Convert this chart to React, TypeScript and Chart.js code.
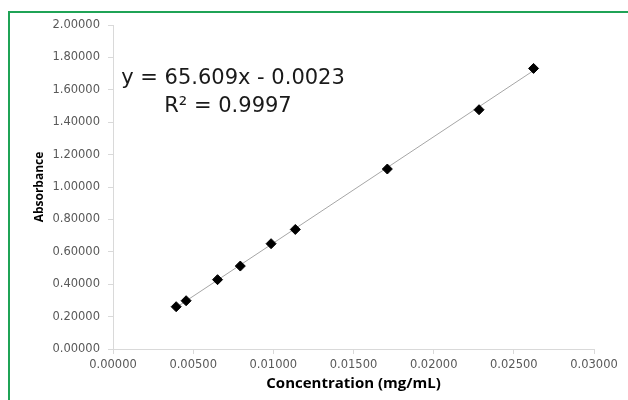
import React, { useEffect, useRef } from "react";
import { Chart, registerables } from "chart.js";

Chart.register(...registerables);

const concentration = [0.00394, 0.00456, 0.00652, 0.00794, 0.00986, 0.01137, 0.01711, 0.02283, 0.02623];
const absorbance = [0.261, 0.298, 0.428, 0.512, 0.65, 0.738, 1.111, 1.477, 1.732];
const trendX = [0.00394, 0.02623];
const trendY = [0.2562, 1.7186];
const equationLines = ["y = 65.609x - 0.0023", "R² = 0.9997"];
const xTitle = "Concentration (mg/mL)";
const yTitle = "Absorbance";

const equationPlugin = {
  id: "equation",
  afterDraw(chart: any) {
    const ctx = chart.ctx;
    ctx.save();
    ctx.fillStyle = "#1a1a1a";
    ctx.font = "21px 'DejaVu Sans'";
    ctx.textAlign = "center";
    ctx.textBaseline = "alphabetic";
    ctx.fillText(equationLines[0], 233, 84);
    ctx.fillText(equationLines[1], 228, 112);
    ctx.restore();
  },
};

export default function App() {
  const ref = useRef<HTMLCanvasElement>(null);
  useEffect(() => {
    if (!ref.current) return;
    const tickFont = { family: "'DejaVu Sans'", size: 11.5 };
    const chart = new Chart(ref.current, {
      type: "scatter",
      data: {
        datasets: [
          {
            data: concentration.map((x, i) => ({ x, y: absorbance[i] })),
            pointStyle: "rectRot",
            pointRadius: 5,
            backgroundColor: "#000",
            borderColor: "#000",
            borderWidth: 1,
            order: 1,
          },
          {
            data: trendX.map((x, i) => ({ x, y: trendY[i] })),
            showLine: true,
            pointRadius: 0,
            borderColor: "#a6a6a6",
            borderWidth: 1,
            order: 2,
          },
        ],
      },
      options: {
        animation: false,
        responsive: false,
        events: [],
        layout: { padding: { left: 0, right: 34, top: 25, bottom: 0 } },
        plugins: { legend: { display: false }, tooltip: { enabled: false } },
        scales: {
          x: {
            type: "linear",
            min: 0,
            max: 0.03,
            afterFit: (s: any) => { s.height = 51; },
            ticks: {
              stepSize: 0.005,
              color: "#595959",
              font: tickFont,
              padding: 4,
              maxRotation: 0,
              callback: (v: any) => Number(v).toFixed(5),
            },
            grid: { drawOnChartArea: false, drawTicks: true, tickLength: 5, color: "#d9d9d9" },
            border: { color: "#d9d9d9", width: 1 },
            title: {
              display: true,
              text: xTitle,
              color: "#000",
              font: { family: "'Open Sans'", size: 15, weight: "bold" },
              padding: { top: 0, bottom: 7 },
            },
          },
          y: {
            type: "linear",
            min: 0,
            max: 2,
            afterFit: (s: any) => { s.width = 113; },
            ticks: {
              stepSize: 0.2,
              color: "#595959",
              font: tickFont,
              padding: 8,
              callback: (v: any) => Number(v).toFixed(5),
            },
            grid: { drawOnChartArea: false, drawTicks: true, tickLength: 5, color: "#d9d9d9" },
            border: { color: "#d9d9d9", width: 1 },
            title: {
              display: true,
              text: yTitle,
              color: "#000",
              font: { family: "'Open Sans'", size: 12, weight: "bold" },
              padding: { top: 32.8, bottom: 0 },
            },
          },
        },
      },
      plugins: [equationPlugin],
    });
    return () => chart.destroy();
  }, []);

  return (
    <div style={{ position: "fixed", left: 0, top: 0, width: 628, height: 400, background: "#fff" }}>
      <canvas ref={ref} width={628} height={400} style={{ position: "absolute", left: 0, top: 0, width: 628, height: 400 }} />
      <div
        style={{
          position: "absolute",
          left: 8,
          top: 11,
          width: 620,
          height: 389,
          borderTop: "2px solid #1fa356",
          borderLeft: "2px solid #1fa356",
          boxSizing: "border-box",
          pointerEvents: "none",
        }}
      />
    </div>
  );
}
